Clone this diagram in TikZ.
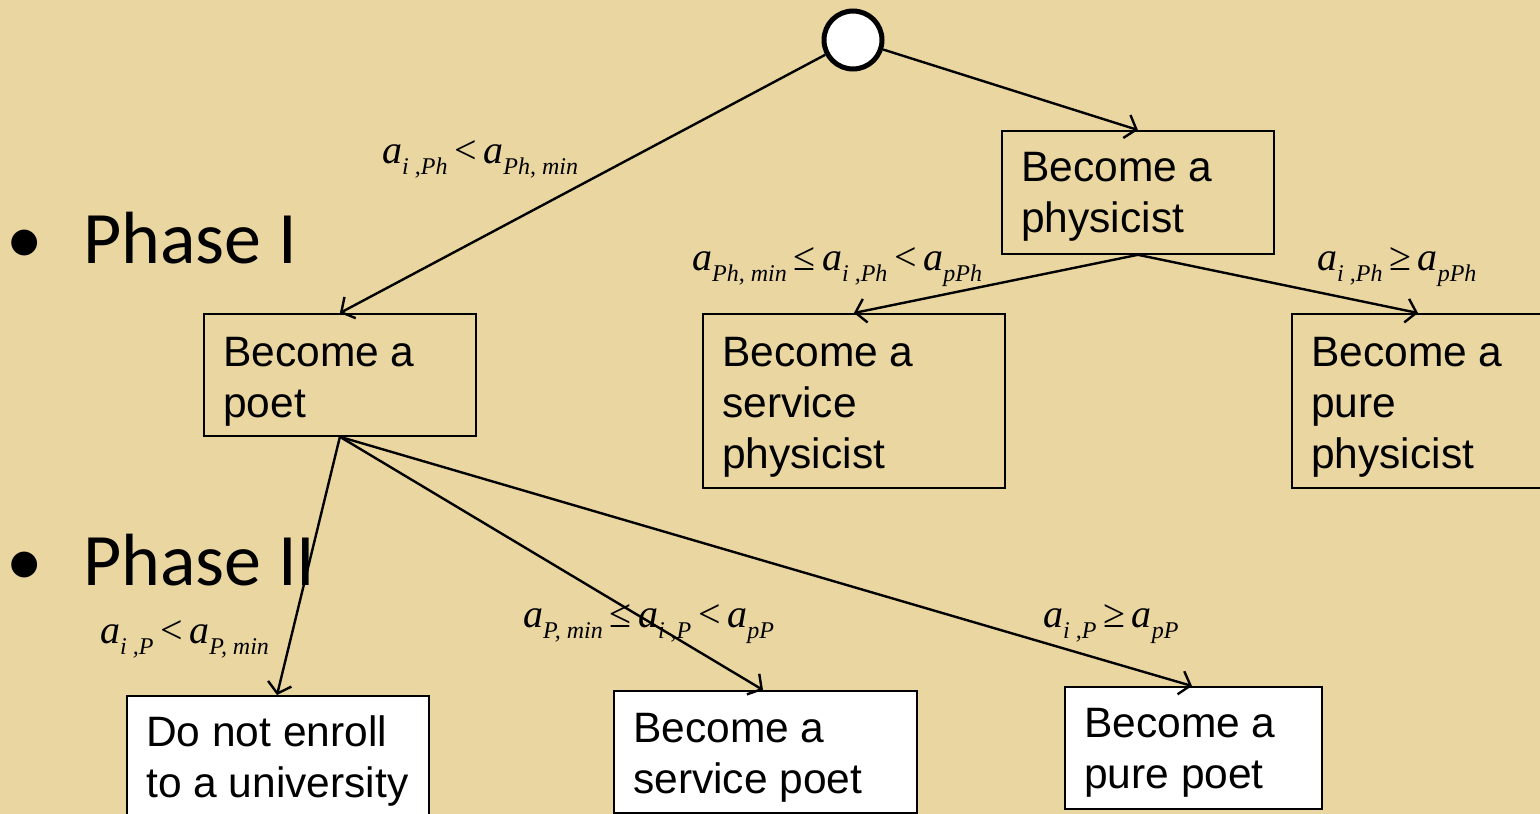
\documentclass[tikz,border=0pt]{standalone}
\usepackage{fontspec}
\setmainfont{Liberation Sans}
\newfontfamily\tms{Liberation Serif}
\newfontfamily\calfont{Carlito}
\usetikzlibrary{arrows.meta}
\definecolor{parch}{RGB}{234,214,160}
\newcommand\va[1]{{\tms\itshape a}\raisebox{-0.28em}{\fontsize{24}{24}\selectfont\tms\itshape #1}}
\newcommand\rel[1]{{\tms #1}}
\newcommand\btext[1]{\parbox[t]{320pt}{\raggedright\fontsize{42.5}{51}\selectfont #1}}
\begin{document}
\begin{tikzpicture}[x=1pt,y=-1pt,
  box/.style={draw=black,line width=1.8pt,anchor=north west,inner sep=0pt},
  wbox/.style={box,fill=white},
  btxt/.style={anchor=base west,inner sep=0pt},
  conn/.style={line width=2.4pt,-{Straight Barb[length=10pt,width=24pt,line width=2.4pt]}},
  lbl/.style={anchor=base west,inner sep=0pt,font=\fontsize{40}{40}\selectfont},
  phase/.style={anchor=base west,inner sep=0pt,font=\calfont\fontsize{74}{74}\selectfont},
  bul/.style={anchor=base,inner sep=0pt,font=\calfont\fontsize{73}{73}\selectfont}]
\fill[parch] (0,0) rectangle (1540,814);
\useasboundingbox (0,0) rectangle (1540,814);
% root
\node[circle,draw=black,fill=white,line width=5pt,minimum size=58pt,inner sep=0pt] (root) at (853,40) {};
% boxes
\node[box,minimum width=272pt,minimum height=123pt] (phys) at (1001,130) {};
\node[btxt] (physT) at ([xshift=20pt,yshift=-51pt]phys.north west) {\btext{Become a\\physicist}};
\node[box,minimum width=272pt,minimum height=122pt] (poet) at (203,313) {};
\node[btxt] (poetT) at ([xshift=20pt,yshift=-53pt]poet.north west) {\btext{Become a\\poet}};
\node[box,minimum width=302pt,minimum height=174pt] (sphys) at (702,313) {};
\node[btxt] (sphysT) at ([xshift=20pt,yshift=-53pt]sphys.north west) {\btext{Become a\\service\\physicist}};
\node[box,minimum width=302pt,minimum height=174pt] (pphys) at (1291,313) {};
\node[btxt] (pphysT) at ([xshift=20pt,yshift=-53pt]pphys.north west) {\btext{Become a\\pure\\physicist}};
\node[wbox,minimum width=302pt,minimum height=125pt] (noenr) at (126,695) {};
\node[btxt] (noenrT) at ([xshift=20pt,yshift=-51pt]noenr.north west) {\btext{Do not enroll\\to a university}};
\node[wbox,minimum width=303pt,minimum height=122pt] (spoet) at (613,690) {};
\node[btxt] (spoetT) at ([xshift=20pt,yshift=-52pt]spoet.north west) {\btext{Become a\\service poet}};
\node[wbox,minimum width=257pt,minimum height=122pt] (ppoet) at (1064,686) {};
\node[btxt] (ppoetT) at ([xshift=20pt,yshift=-51pt]ppoet.north west) {\btext{Become a\\pure poet}};
% connectors
\draw[conn] (root) -- (poet.north);
\draw[conn] (root) -- (phys.north);
\draw[conn] (phys.south) -- (sphys.north);
\draw[conn] (phys.south) -- (pphys.north -| 1418,0);
\draw[conn] (poet.south) -- (noenr.north -| 277,0);
\draw[conn] (poet.south) -- (spoet.north -| 763,0);
\draw[conn] (poet.south) -- (ppoet.north -| 1192,0);
% labels
\node[lbl] (l1) at (382,163) {\va{i ,Ph}\rel{\,<\,}\va{Ph, min}};
\node[lbl] (l2) at (692,270) {\va{Ph, min}\rel{\,≤\,}\va{i ,Ph}\rel{\,<\,}\va{pPh}};
\node[lbl] (l3) at (1317,270) {\va{i ,Ph}\rel{\,≥\,}\va{pPh}};
\node[lbl] (l4) at (100,643) {\va{i ,P}\rel{\,<\,}\va{P, min}};
\node[lbl] (l5) at (523,627) {\va{P, min}\rel{\,≤\,}\va{i ,P}\rel{\,<\,}\va{pP}};
\node[lbl] (l6) at (1043,627) {\va{i ,P}\rel{\,≥\,}\va{pP}};
% phases
\node[bul] (b1) at (25,263) {•};
\node[phase] (ph1) at (83,263) {Phase I};
\node[bul] (b2) at (25,585) {•};
\node[phase] (ph2) at (83,585) {Phase II};
\end{tikzpicture}
\end{document}
